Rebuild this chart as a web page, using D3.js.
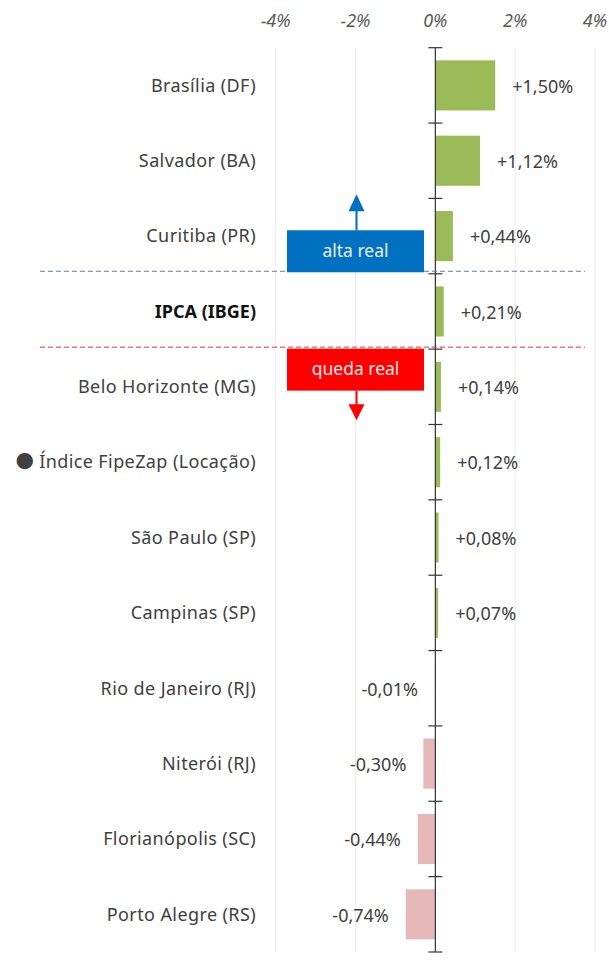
<!DOCTYPE html>
<html>
<head>
<meta charset="utf-8">
<script src="https://cdn.jsdelivr.net/npm/d3@7"></script>
<style>
  body { margin: 0; background: #fff; }
  text { font-family: "Noto Sans", "Noto Sans CJK JP", sans-serif; }
</style>
</head>
<body>
<div id="chart"></div>
<script>
// dados
var cidades = ["Brasília (DF)", "Salvador (BA)", "Curitiba (PR)", "IPCA (IBGE)",
               "Belo Horizonte (MG)", "● Índice FipeZap (Locação)", "São Paulo (SP)",
               "Campinas (SP)", "Rio de Janeiro (RJ)", "Niterói (RJ)",
               "Florianópolis (SC)", "Porto Alegre (RS)"];
var variacao = [1.50, 1.12, 0.44, 0.21, 0.14, 0.12, 0.08, 0.07, -0.01, -0.30, -0.44, -0.74];
var rotulos = ["+1,50%", "+1,12%", "+0,44%", "+0,21%", "+0,14%", "+0,12%", "+0,08%",
               "+0,07%", "-0,01%", "-0,30%", "-0,44%", "-0,74%"];
var ticksX = [-4, -2, 0, 2, 4];
var tickLabels = ["-4%", "-2%", "0%", "2%", "4%"];

var width = 609, height = 962;

var x = d3.scaleLinear().domain([-4, 4]).range([275.7, 595]);
var y = d3.scaleBand().domain(cidades).range([47.7, 952])
    .paddingInner(0.335).paddingOuter(0.1675);

var svg = d3.select("#chart").append("svg")
    .attr("width", width)
    .attr("height", height);

// grade vertical
svg.selectAll(".grid")
    .data(ticksX.filter(function(d){ return d !== 0; }))
    .enter().append("line")
    .attr("class", "grid")
    .attr("x1", function(d){ return x(d); })
    .attr("x2", function(d){ return x(d); })
    .attr("y1", y.range()[0])
    .attr("y2", y.range()[1])
    .attr("stroke", "#ececec")
    .attr("stroke-width", 1);

// eixo X no topo
svg.selectAll(".xlab")
    .data(ticksX)
    .enter().append("text")
    .attr("class", "xlab")
    .attr("x", function(d){ return x(d); })
    .attr("y", 21)
    .attr("dy", "0.35em")
    .attr("text-anchor", "middle")
    .attr("font-style", "italic")
    .attr("font-size", 18)
    .attr("fill", "#595959")
    .text(function(d, i){ return tickLabels[i]; });

// barras
svg.selectAll(".bar")
    .data(variacao)
    .enter().append("rect")
    .attr("class", "bar")
    .attr("x", function(d){ return x(Math.min(0, d)); })
    .attr("y", function(d, i){ return y(cidades[i]); })
    .attr("width", function(d){ return Math.abs(x(d) - x(0)); })
    .attr("height", y.bandwidth())
    .attr("fill", function(d){ return d >= 0 ? "#9BBB59" : "#E6B9B8"; });

// linha do zero com marcas
svg.append("line")
    .attr("x1", x(0)).attr("x2", x(0))
    .attr("y1", y.range()[0]).attr("y2", y.range()[1])
    .attr("stroke", "#333").attr("stroke-width", 1.2);

var bordas = d3.range(cidades.length + 1).map(function(i){ return y.range()[0] + i * y.step(); });
svg.selectAll(".ytick")
    .data(bordas)
    .enter().append("line")
    .attr("x1", x(0) - 7).attr("x2", x(0) + 7)
    .attr("y1", function(d){ return d; })
    .attr("y2", function(d){ return d; })
    .attr("stroke", "#333").attr("stroke-width", 1.2);

// rótulos das categorias
svg.selectAll(".cat")
    .data(cidades)
    .enter().append("text")
    .attr("class", "cat")
    .attr("x", 256)
    .attr("y", function(d){ return y(d) + y.bandwidth() / 2; })
    .attr("dy", "0.35em")
    .attr("text-anchor", "end")
    .attr("font-size", 18)
    .attr("letter-spacing", function(d){ return d === "IPCA (IBGE)" ? 0 : 0.4; })
    .attr("font-weight", function(d){ return d === "IPCA (IBGE)" ? "bold" : "normal"; })
    .attr("fill", function(d){ return d === "IPCA (IBGE)" ? "#111" : "#404040"; })
    .text(function(d){ return d; });

// rótulos dos valores
svg.selectAll(".val")
    .data(variacao)
    .enter().append("text")
    .attr("class", "val")
    .attr("x", function(d){ return d >= 0 ? x(d) + 17 : x(d) - 17; })
    .attr("y", function(d, i){ return y(cidades[i]) + y.bandwidth() / 2 + 1; })
    .attr("dy", "0.35em")
    .attr("text-anchor", function(d){ return d >= 0 ? "start" : "end"; })
    .attr("font-size", 18)
    .attr("fill", "#404040")
    .text(function(d, i){ return rotulos[i]; });

// linhas tracejadas acima/abaixo do IPCA
var yAlta = y("IPCA (IBGE)") - y.step() * 0.1675 - 2.5;
var yQueda = y("IPCA (IBGE)") + y.bandwidth() + y.step() * 0.1675 - 2;

svg.append("line")
    .attr("x1", 40).attr("x2", 585)
    .attr("y1", yAlta).attr("y2", yAlta)
    .attr("stroke", "#4F81BD").attr("stroke-width", 1)
    .attr("stroke-dasharray", "5,3");

svg.append("line")
    .attr("x1", 40).attr("x2", 585)
    .attr("y1", yQueda).attr("y2", yQueda)
    .attr("stroke", "#E03030").attr("stroke-width", 1)
    .attr("stroke-dasharray", "5,3");

// caixas "alta real" / "queda real"
var boxW = 137, boxH = 42;
var boxX = x(-2) - boxW / 2;

svg.append("rect")
    .attr("x", boxX).attr("y", yAlta - boxH + 1)
    .attr("width", boxW).attr("height", boxH)
    .attr("fill", "#0070C0");
svg.append("text")
    .attr("x", x(-2)).attr("y", yAlta - boxH / 2 + 1)
    .attr("dy", "0.35em").attr("text-anchor", "middle")
    .attr("font-size", 17.5).attr("fill", "#E8EEF8")
    .text("alta real");

svg.append("line")
    .attr("x1", x(-2) + 1).attr("x2", x(-2) + 1)
    .attr("y1", yAlta - boxH + 1).attr("y2", yAlta - boxH - 20)
    .attr("stroke", "#0070C0").attr("stroke-width", 2);
svg.append("path")
    .attr("d", d3.line()([[x(-2) + 1, yAlta - boxH - 35], [x(-2) - 7, yAlta - boxH - 18], [x(-2) + 9, yAlta - boxH - 18]]) + "Z")
    .attr("fill", "#0070C0");

svg.append("rect")
    .attr("x", boxX).attr("y", yQueda + 1.5)
    .attr("width", boxW).attr("height", boxH)
    .attr("fill", "#FF0000");
svg.append("text")
    .attr("x", x(-2)).attr("y", yQueda + 1.5 + boxH / 2 - 1)
    .attr("dy", "0.35em").attr("text-anchor", "middle")
    .attr("font-size", 17.5).attr("fill", "#FBE8E8")
    .text("queda real");

svg.append("line")
    .attr("x1", x(-2) + 1).attr("x2", x(-2) + 1)
    .attr("y1", yQueda + 1.5 + boxH).attr("y2", yQueda + boxH + 18)
    .attr("stroke", "#FF0000").attr("stroke-width", 2);
svg.append("path")
    .attr("d", d3.line()([[x(-2) + 1, yQueda + boxH + 31], [x(-2) - 7, yQueda + boxH + 15], [x(-2) + 9, yQueda + boxH + 15]]) + "Z")
    .attr("fill", "#FF0000");
</script>
</body>
</html>
